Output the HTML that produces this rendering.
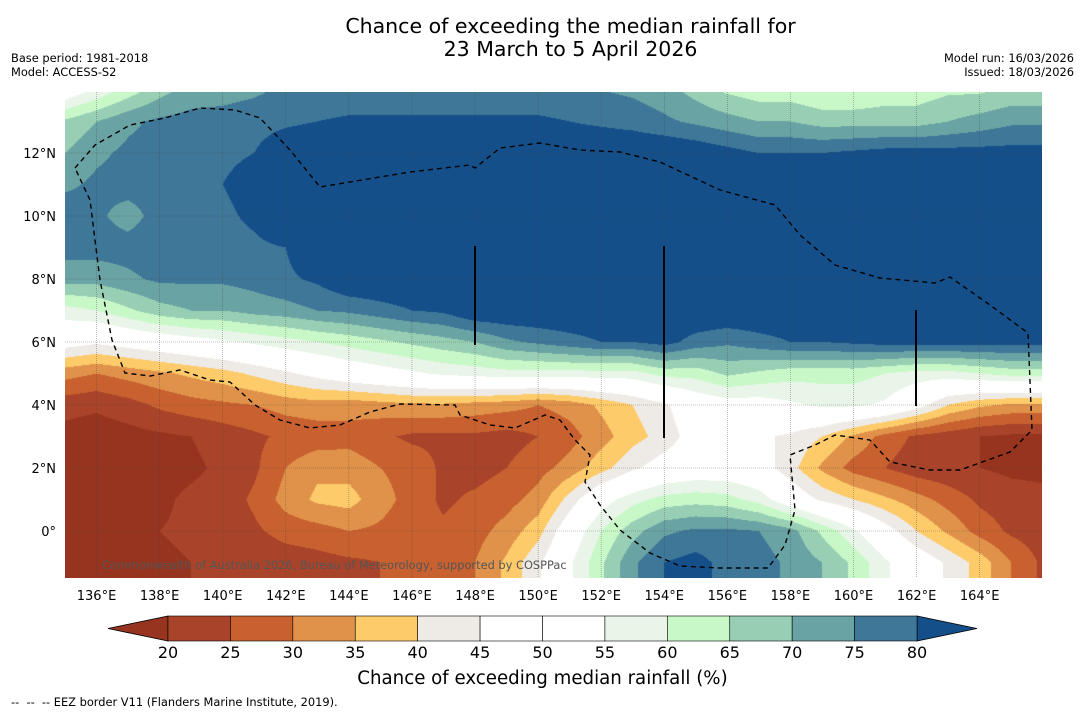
<!DOCTYPE html>
<html><head><meta charset="utf-8">
<style>
body{margin:0;background:#fff;font-family:"DejaVu Sans","Liberation Sans",sans-serif;}
#wrap{position:relative;width:1085px;height:713px;overflow:hidden;background:#fff;}
.t{position:absolute;white-space:nowrap;color:#000;}
</style></head><body>
<div id="wrap">
<div class="t" style="left:0;width:1141px;text-align:center;top:15px;font-size:20.5px;line-height:23px;">Chance of exceeding the median rainfall for<br>23 March to 5 April 2026</div>
<div class="t" style="left:11px;top:51px;font-size:11.4px;line-height:14px;">Base period: 1981-2018<br>Model: ACCESS-S2</div>
<div class="t" style="right:11px;top:51px;font-size:11.4px;line-height:14px;text-align:right;">Model run: 16/03/2026<br>Issued: 18/03/2026</div>
<canvas id="map" width="977" height="486" style="position:absolute;left:65px;top:92px;"></canvas>
<svg id="ov" width="1085" height="713" style="position:absolute;left:0;top:0;"></svg>
<div class="t" style="left:102px;top:558px;font-size:11.4px;color:#555;">Commonwealth of Australia 2026, Bureau of Meteorology, supported by COSPPac</div>
<div class="t" style="left:0;width:1085px;text-align:center;top:668px;font-size:18.2px;">Chance of exceeding median rainfall (%)</div>
<div class="t" style="left:11px;top:695px;font-size:11.4px;">--&nbsp; --&nbsp; -- EEZ border V11 (Flanders Marine Institute, 2019).</div>
</div>
<script>
const lons=[135,136,137,138,139,140,141,142,143,144,145,146,147,148,149,150,151,152,153,154,155,156,157,158,159,160,161,162,163,164,165,166];
const lats=[14,13,12,11,10,9,8,7,6,5,4,3,2,1,0,-1,-2];
const r14=[50,56,62,68,72,73,74,76,76,76,76,76,76,76,76,76,76,75,74,72,68,64,62,62,60,60,62,62,64,64,66,66];
const r13=[66,70,74,76,77,77,78,79,80,81,81,81,81,81,81,81,80,79,78,76,74,72,70,70,68,68,68,68,70,72,74,74];
const r12=[70,74,76,77,78,79,80,84,85,85,85,85,85,85,85,85,85,85,85,85,84,82,80,80,80,81,82,82,82,82,82,82];
const r11=[74,76,77,77,78,80,82,85,85,85,85,85,85,85,85,85,85,85,85,85,85,85,85,85,85,85,85,85,85,85,85,85];
const r10=[78,76,73,77,78,79,81,85,85,85,85,85,85,85,85,85,85,85,85,85,85,85,85,85,85,85,85,85,85,85,85,85];
const r9=[77,77,77,78,78,78,79,80,85,85,85,85,85,85,85,85,85,85,85,85,85,85,85,85,85,85,85,85,85,85,85,85];
const r8=[72,72,74,76,76,76,77,79,81,85,85,85,85,85,85,85,85,85,85,85,85,85,85,85,85,85,85,85,85,85,85,85];
const r7=[58,60,64,68,70,70,72,73,75,76,78,80,81,85,85,85,85,85,85,85,85,85,85,85,85,85,85,85,85,85,85,85];
const r6=[48,46,48,50,52,54,56,58,60,62,64,66,68,70,74,76,78,80,80,82,78,76,78,80,80,81,82,82,82,82,82,82];
const r5=[32,30,32,34,36,38,41,44,47,50,52,54,56,57,58,58,58,58,58,62,62,66,64,62,62,62,60,58,58,60,62,62];
const r4=[22,21,23,26,28,29,30,32,33,32,33,34,34,33,32,30,32,36,40,44,50,52,52,54,56,56,54,48,40,36,34,34];
const r3=[18,17,18,19,20,22,24,26,27,28,26,24,24,24,23,25,28,33,38,42,48,48,46,44,40,34,28,24,22,20,19,19];
const r2=[17,17,18,18,19,21,24,30,34,33,30,28,24,23,25,28,32,38,44,48,50,50,48,42,34,28,25,22,21,20,19,19];
const r1=[17,17,18,19,21,22,26,32,36,37,32,28,24,26,28,32,42,52,58,62,63,62,58,50,44,40,36,32,28,24,22,21];
const r0=[18,18,19,20,21,22,24,27,28,30,29,27,26,28,32,38,50,60,68,74,76,76,75,72,64,56,48,40,34,28,24,22];
const rm1=[18,17,18,19,20,21,21,22,23,24,25,26,27,30,36,44,54,64,74,80,82,78,77,74,70,64,56,50,44,38,30,24];
const rm2=[18,17,18,19,20,21,21,22,23,24,25,26,27,30,36,44,54,64,74,80,82,78,77,74,70,64,56,50,44,38,30,24];
const grid=[r14,r13,r12,r11,r10,r9,r8,r7,r6,r5,r4,r3,r2,r1,r0,rm1,rm2];
const levels=[20,25,30,35,40,45,50,55,60,65,70,75,80];
const colors=["#97341f","#a9442a","#c8612f","#e0924a","#fdcb6a","#eeeae5","#ffffff","#ffffff","#e8f5e8","#c8f8c8","#98cfb4","#6aa3a3","#3f7799","#154f8a"];
const lonTicks=[136,138,140,142,144,146,148,150,152,154,156,158,160,162,164];
const latTicks=[0,2,4,6,8,10,12];

const X0=65,Y0=92,W=977,H=486;
function xOf(lon){return 65+(lon-135)*31.54;}
function yOf(lat){return 531-lat*31.5;}
function val(lon,lat){
  let fi=(lon-135),fj=(14-lat);
  fi=Math.max(0,Math.min(lons.length-1.001,fi));fj=Math.max(0,Math.min(lats.length-1.001,fj));
  const i=Math.floor(fi),j=Math.floor(fj),a=fi-i,b=fj-j;
  return grid[j][i]*(1-a)*(1-b)+grid[j][i+1]*a*(1-b)+grid[j+1][i]*(1-a)*b+grid[j+1][i+1]*a*b;
}
function hex(c){return [parseInt(c.slice(1,3),16),parseInt(c.slice(3,5),16),parseInt(c.slice(5,7),16)];}
const rgb=colors.map(hex);
function cidx(v){let k=0;while(k<levels.length&&v>=levels[k])k++;return k;}
const ctx=document.getElementById('map').getContext('2d');
const img=ctx.createImageData(W,H);
for(let py=0;py<H;py++){for(let px=0;px<W;px++){
  const lon=135+(X0+px+0.5-65)/31.54, lat=(531-(Y0+py+0.5))/31.5;
  const c=rgb[cidx(val(lon,lat))];const o=(py*W+px)*4;
  img.data[o]=c[0];img.data[o+1]=c[1];img.data[o+2]=c[2];img.data[o+3]=255;
}}
ctx.putImageData(img,0,0);
const NS="http://www.w3.org/2000/svg";
const ov=document.getElementById('ov');
function mk(t,a){const e=document.createElementNS(NS,t);for(const k in a)e.setAttribute(k,a[k]);ov.appendChild(e);return e;}
lonTicks.forEach(l=>{
  const x=xOf(l);
  const g=mk('line',{x1:x,y1:Y0,x2:x,y2:Y0+H,stroke:'#444','stroke-width':0.6,'stroke-dasharray':'1,1',opacity:0.6});
  
  const t=mk('text',{x:x,y:600,'font-size':13,'text-anchor':'middle','font-family':'DejaVu Sans, sans-serif'});
  t.textContent=l+'°E';
  
});
latTicks.forEach(l=>{
  const y=yOf(l);
  const g=mk('line',{x1:X0,y1:y,x2:X0+W,y2:y,stroke:'#444','stroke-width':0.6,'stroke-dasharray':'1,1',opacity:0.6});
  
  const t=mk('text',{x:56,y:y+5,'font-size':13,'text-anchor':'end','font-family':'DejaVu Sans, sans-serif'});
  t.textContent=l===0?'0°':l+'°N';
  
});
const eez="M75,168 L95,145 L130,125 L165,118 L200,108 L235,110 L260,118 L290,150 L320,187 L410,172 L470,165 L475,168 L500,148 L540,143 L580,150 L620,152 L660,162 L720,190 L775,205 L800,235 L835,265 L880,278 L935,283 L950,277 L990,305 L1028,333 L1032,430 L1010,452 L960,470 L930,470 L890,462 L870,440 L835,435 L815,445 L790,455 L795,510 L785,545 L768,568 L720,568 L680,566 L650,553 L620,530 L600,505 L585,482 L590,455 L575,440 L560,420 L545,415 L515,428 L490,425 L460,415 L455,405 L400,404 L370,412 L340,425 L310,428 L280,420 L255,405 L230,382 L210,380 L180,370 L150,376 L125,373 L112,340 L100,280 L95,240 L90,200 Z";
const p=mk('path',{d:eez,fill:'none',stroke:'#000','stroke-width':1.4,'stroke-dasharray':'5,4'});

[[475,246,345],[664,246,438],[916,310,406]].forEach(v=>{
  const l=mk('line',{x1:v[0],y1:v[1],x2:v[0],y2:v[2],stroke:'#000','stroke-width':2});
  
});
const cbL=168,cbR=917,cbT=616,cbB=641,bw=(cbR-cbL)/12;
const lt=mk('polygon',{points:`108,${(cbT+cbB)/2} ${cbL},${cbT} ${cbL},${cbB}`,fill:colors[0],stroke:'#000','stroke-width':0.8});

const rt=mk('polygon',{points:`977,${(cbT+cbB)/2} ${cbR},${cbT} ${cbR},${cbB}`,fill:colors[13],stroke:'#000','stroke-width':0.8});

for(let k=0;k<12;k++){
  const r=mk('rect',{x:cbL+k*bw,y:cbT,width:bw,height:cbB-cbT,fill:colors[k+1],stroke:'#000','stroke-width':0.6});
  
}
levels.forEach((lv,k)=>{
  const t=mk('text',{x:cbL+k*bw,y:658,'font-size':16,'text-anchor':'middle','font-family':'DejaVu Sans, sans-serif'});
  t.textContent=lv;
  
});
</script>
</body></html>
